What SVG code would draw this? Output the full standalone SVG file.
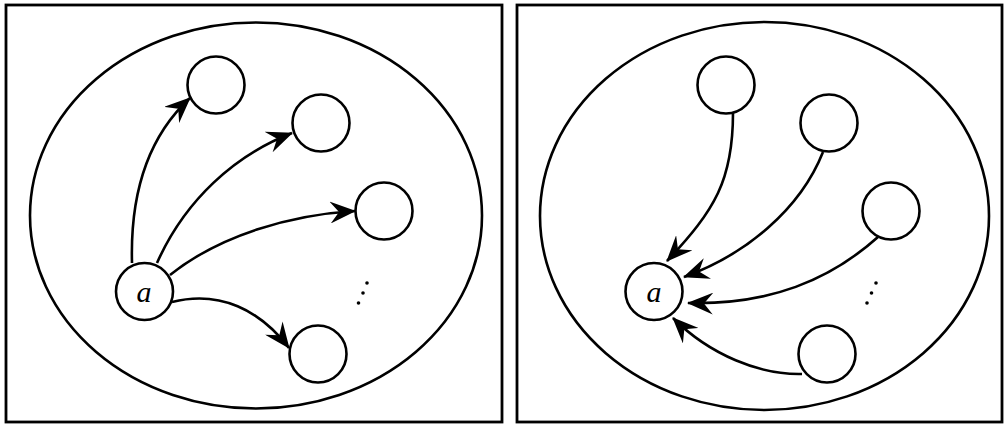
<svg xmlns="http://www.w3.org/2000/svg" width="1005" height="425" viewBox="0 0 1005 425">
<style>
.frame{fill:#fff;stroke:#000;stroke-width:2.8}
.set{fill:none;stroke:#000;stroke-width:2.6}
.node{fill:#fff;stroke:#000;stroke-width:2.6}
.edge{fill:none;stroke:#000;stroke-width:2.6;marker-end:url(#ah)}
.lbl{font-family:"Liberation Serif",serif;font-style:italic;font-size:30px;text-anchor:middle;dominant-baseline:central}
.dot{fill:#000}
</style>
<defs>
<marker id="ah" markerUnits="userSpaceOnUse" viewBox="0 0 26 22" refX="25" refY="11" markerWidth="26" markerHeight="22" orient="auto">
<path d="M0,0 L26,11 L0,22 L9,11 z" fill="#000"/>
</marker>
</defs>
<rect width="1005" height="425" fill="#fff"/>
<g id="left-panel">
<rect class="frame" x="6" y="5" width="496" height="417"/>
<ellipse class="set" cx="256" cy="215.5" rx="226" ry="193"/>
</g>
<g id="right-panel">
<rect class="frame" x="517" y="5" width="485" height="417"/>
<ellipse class="set" cx="764.5" cy="216" rx="224.5" ry="194"/>
</g>
<g id="connectors">
<path class="edge" d="M132,263 C130,190 150,135 190,98"/>
<path class="edge" d="M157,263 C185,200 235,155 292,133"/>
<path class="edge" d="M170,275 C220,235 290,215 355,211"/>
<path class="edge" d="M172,302 C220,290 260,310 289,348"/>
<path class="edge" d="M733,113 C733,180 715,210 667,261"/>
<path class="edge" d="M823,152 C800,210 745,255 684,277"/>
<path class="edge" d="M878,237 C830,280 770,305 688,303"/>
<path class="edge" d="M802,374 C760,375 710,355 673,318"/>
</g>
<g id="L-a"><circle class="node" cx="144.5" cy="291.5" r="28.5"/><text class="lbl" x="144" y="291">a</text></g>
<g id="L-n1"><circle class="node" cx="216" cy="85" r="28.5"/></g>
<g id="L-n2"><circle class="node" cx="321" cy="123" r="28.5"/></g>
<g id="L-n3"><circle class="node" cx="384" cy="211" r="28.5"/></g>
<g id="L-n4"><circle class="node" cx="318" cy="354" r="28.5"/></g>
<g id="L-dots"><circle class="dot" cx="367" cy="283" r="1.8"/><circle class="dot" cx="363" cy="293" r="1.8"/><circle class="dot" cx="358.5" cy="303" r="1.8"/></g>
<g id="R-a"><circle class="node" cx="654" cy="291.5" r="28.5"/><text class="lbl" x="654" y="291">a</text></g>
<g id="R-n1"><circle class="node" cx="726" cy="85" r="28.5"/></g>
<g id="R-n2"><circle class="node" cx="829" cy="123" r="28.5"/></g>
<g id="R-n3"><circle class="node" cx="891" cy="211" r="28.5"/></g>
<g id="R-n4"><circle class="node" cx="827" cy="354" r="28.5"/></g>
<g id="R-dots"><circle class="dot" cx="876" cy="283" r="1.8"/><circle class="dot" cx="871.5" cy="293" r="1.8"/><circle class="dot" cx="867" cy="303" r="1.8"/></g>
</svg>
